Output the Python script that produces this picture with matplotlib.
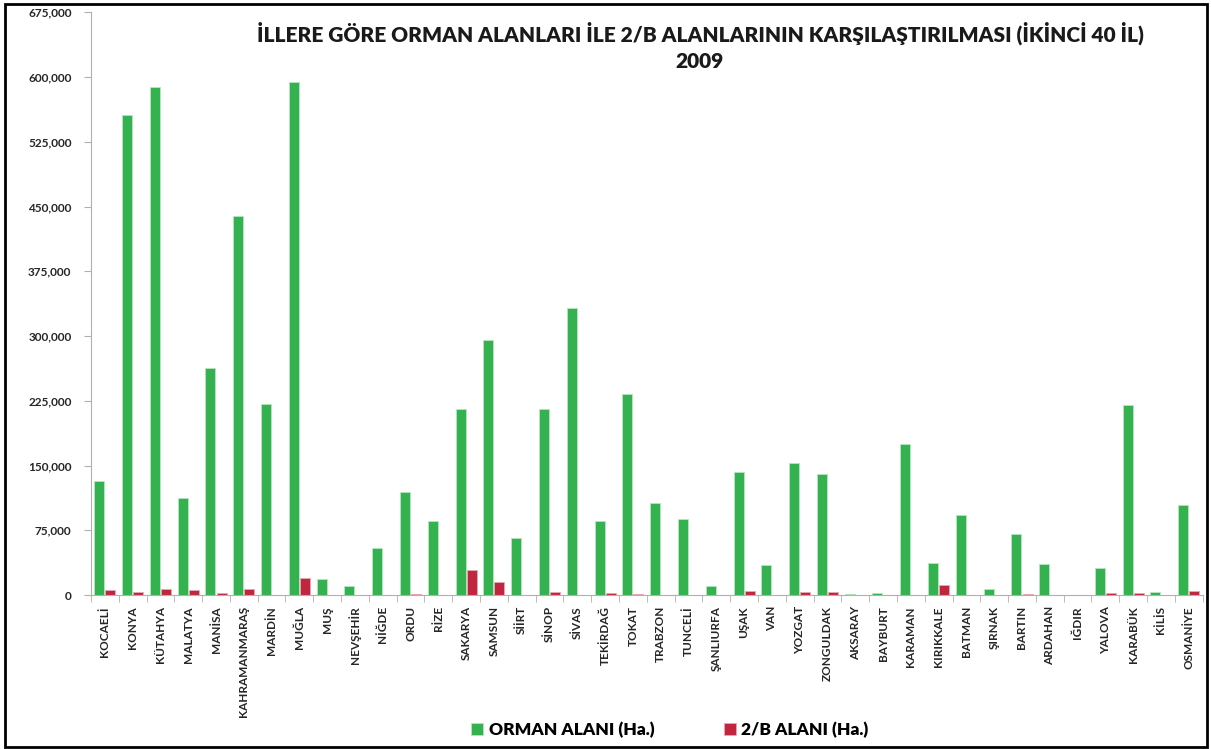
import numpy as np
import matplotlib
matplotlib.use("Agg")
import matplotlib.pyplot as plt
from matplotlib.ticker import FuncFormatter
from matplotlib.patches import Rectangle

plt.rcParams['font.family'] = ['Lato', 'DejaVu Sans']

provinces = ["KOCAELİ", "KONYA", "KÜTAHYA", "MALATYA", "MANİSA", "KAHRAMANMARAŞ", "MARDİN",
             "MUĞLA", "MUŞ", "NEVŞEHİR", "NİĞDE", "ORDU", "RİZE", "SAKARYA", "SAMSUN", "SİİRT",
             "SİNOP", "SİVAS", "TEKİRDAĞ", "TOKAT", "TRABZON", "TUNCELİ", "ŞANLIURFA", "UŞAK",
             "VAN", "YOZGAT", "ZONGULDAK", "AKSARAY", "BAYBURT", "KARAMAN", "KIRIKKALE", "BATMAN",
             "ŞIRNAK", "BARTIN", "ARDAHAN", "IĞDIR", "YALOVA", "KARABÜK", "KİLİS", "OSMANİYE"]

orman = [132000, 556000, 589000, 112000, 263000, 439000, 221000,
         594000, 18500, 10000, 55000, 119000, 86000, 215000, 295000, 66000,
         215000, 332000, 86000, 233000, 107000, 88000, 11000, 142000,
         35000, 153000, 140000, 1000, 2500, 175000, 37000, 93000,
         7000, 71000, 36000, 0, 31000, 220000, 3500, 104000]

iki_b = [5500, 3500, 6500, 5500, 2000, 6500, 0,
         19500, 0, 0, 0, 1000, 300, 29000, 15000, 0,
         3000, 0, 2000, 1000, 0, 0, 0, 5000,
         0, 3000, 3000, 0, 0, 0, 12000, 0,
         0, 1000, 0, 0, 2000, 2000, 0, 5000]

green = '#33b24f'
red = '#c0273f'

fig = plt.figure(figsize=(12.11, 7.49), dpi=100)
ax = fig.add_axes([0.0751, 0.2056, 0.918, 0.778])

x = np.arange(len(provinces))
w = 0.36
ax.bar(x - 0.2, orman, width=w, color=green, edgecolor='#b8e6c2', linewidth=0.6, label='ORMAN ALANI (Ha.)')
ax.bar(x + 0.2, iki_b, width=w, color=red, edgecolor='#e8a8b4', linewidth=0.6, label='2/B ALANI (Ha.)')

ax.set_xlim(-0.5, len(provinces) - 0.5)
ax.set_ylim(0, 675000)
ax.set_yticks(np.arange(0, 675001, 75000))
ax.yaxis.set_major_formatter(FuncFormatter(lambda v, p: f"{int(v):,}"))

ax.set_xticks(x)
ax.set_xticklabels(provinces, rotation=90, fontsize=8.5, fontweight='bold', color='#262626')
ax.set_xticks(np.arange(-0.5, len(provinces)), minor=True)
ax.tick_params(axis='x', which='major', length=0, pad=8)
ax.tick_params(axis='x', which='minor', length=5, color='#b0b0b0', direction='out')
ax.tick_params(axis='y', length=5, color='#b0b0b0', labelsize=8.5, labelcolor='#262626', pad=9)
for lbl in ax.get_yticklabels():
    lbl.set_fontweight('bold')

for s in ['top', 'right']:
    ax.spines[s].set_visible(False)
ax.spines['left'].set_color('#b0b0b0')
ax.spines['bottom'].set_color('#b0b0b0')

fig.text(0.578, 0.955, "İLLERE GÖRE ORMAN ALANLARI İLE 2/B ALANLARININ KARŞILAŞTIRILMASI (İKİNCİ 40 İL)",
         ha='center', va='center', fontsize=15, fontweight='heavy', color='#1a1a1a')
fig.text(0.578, 0.918, "2009", ha='center', va='center', fontsize=15, fontweight='heavy', color='#1a1a1a')

fig.legend(loc='center', bbox_to_anchor=(0.553, 0.025), ncol=2, frameon=False,
           prop={'weight': 'heavy', 'size': 12.5}, handlelength=0.7, handleheight=0.7,
           handletextpad=0.3, columnspacing=4.0)

fig.patches.append(Rectangle((0.004, 0.003), 0.993, 0.992, transform=fig.transFigure,
                             fill=False, edgecolor='black', linewidth=2))

fig.savefig('out.png', dpi=100)
